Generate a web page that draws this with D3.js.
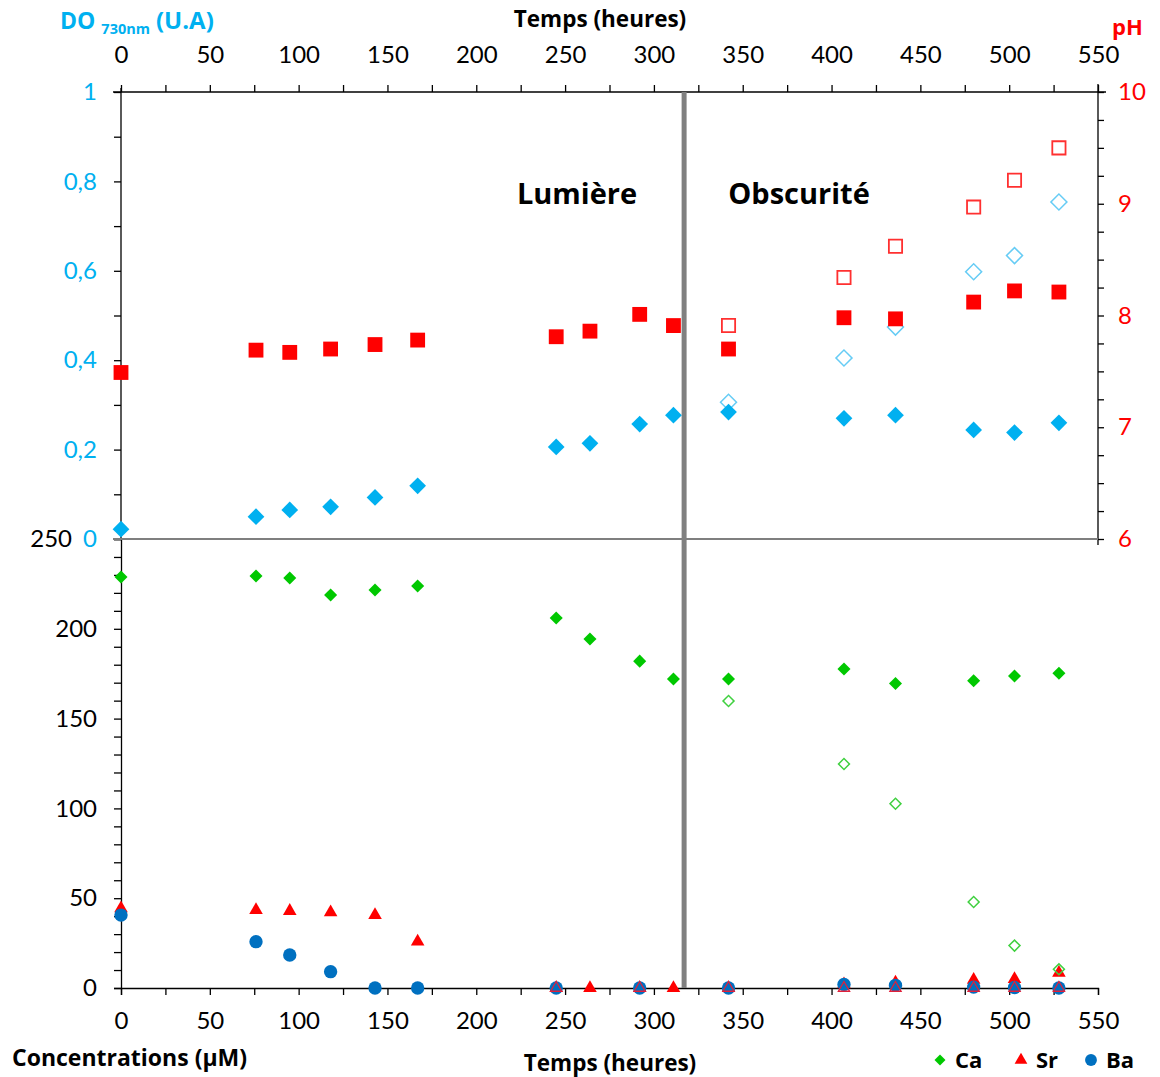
<!DOCTYPE html>
<html><head><meta charset="utf-8">
<script src="https://cdn.jsdelivr.net/npm/d3@7"></script>
<style>
html,body{margin:0;padding:0;background:#fff;}
svg{display:block;font-family:"Open Sans",Lato,sans-serif;}
</style></head>
<body>
<svg id="c" width="1160" height="1077"></svg>
<script>
// ---------- DATA ----------
const timeAll = [0, 76, 95, 118, 143, 167, 245, 264, 292, 311, 342, 407, 436, 480, 503, 528];
const doLight = [0.022, 0.050, 0.065, 0.072, 0.093, 0.119, 0.206, 0.214, 0.257, 0.277, 0.284, 0.270, 0.277, 0.244, 0.238, 0.260];
const phLight = [7.49, 7.69, 7.67, 7.70, 7.74, 7.78, 7.81, 7.86, 8.01, 7.91, 7.70, 7.98, 7.97, 8.12, 8.22, 8.21];
const timeDark = [342, 407, 436, 480, 503, 528];
const doDark = [0.306, 0.405, 0.474, 0.598, 0.634, 0.754];
const phDark = [7.91, 8.34, 8.62, 8.97, 9.21, 9.50];
const caLight = [228.8, 229.4, 228.3, 218.8, 221.6, 223.8, 206.0, 194.3, 182.0, 172.0, 172.0, 177.6, 169.6, 171.1, 173.7, 175.2];
const caDark = [159.8, 124.7, 102.6, 47.9, 23.6, 10.4];
const srLight = [44.3, 43.4, 42.9, 42.1, 40.6, 25.8, 0, 0, 0, 0, 0, 2, 3, 4.5, 5, 8.4];
const baLight = [40.6, 25.8, 18.4, 9.1, 0, 0, 0, null, 0, null, 0, 2, 1.5, 0.5, 0.3, 0];
const timeSrDark = [245, 292, 342, 407, 436, 480, 503, 528];
const srDark = [0, 0, 0, 0, 0, 0, 0, 0];
const xTicks = [0, 50, 100, 150, 200, 250, 300, 350, 400, 450, 500, 550];
const doTicks = [0, 0.2, 0.4, 0.6, 0.8, 1];
const phTicks = [6, 7, 8, 9, 10];
const concTicks = [0, 50, 100, 150, 200];
const dividerTime = 317;
const legendItems = ["Ca", "Sr", "Ba"];

// ---------- SETUP ----------
const svg = d3.select("#c");
const X0 = 121, X1 = 1098, YT = 92, YM = 539, YB = 988;
const x = d3.scaleLinear().domain([0, 550]).range([X0, X1]);
const yDO = d3.scaleLinear().domain([0, 1]).range([YM, YT]);
const yPH = d3.scaleLinear().domain([6, 10]).range([YM, YT]);
const yC = d3.scaleLinear().domain([0, 250]).range([YB, YM]);

const BLUE = "#00B0F0", RED = "#FF0000", GREEN = "#00C800", DBLUE = "#0070C0";
const TXT = "#000";
const TICKFS = 24;
const TICKFONT = "Lato, 'Open Sans', sans-serif";
const fmtFr = d => String(d).replace(".", ",");

function styleAxis(g, color) {
  g.select(".domain").attr("stroke", "#000").attr("stroke-width", 1.3);
  g.selectAll(".tick line").attr("stroke", "#000").attr("stroke-width", 1.3);
  g.selectAll(".tick text").attr("fill", color).attr("font-size", TICKFS)
    .attr("font-family", TICKFONT);
}

// top x axis
const gTop = svg.append("g").attr("transform", `translate(0,${YT})`)
  .call(d3.axisTop(x).tickValues(d3.range(0, 551, 25)).tickSize(7).tickPadding(22)
    .tickFormat(d => xTicks.includes(d) ? d : ""));
styleAxis(gTop, "#000");
gTop.select(".domain").attr("d", `M${X0 - 8},0H${X1 + 8}`);

// bottom x axis
const gBot = svg.append("g").attr("transform", `translate(0,${YB})`)
  .call(d3.axisBottom(x).tickValues(d3.range(0, 551, 25)).tickSize(7).tickPadding(17)
    .tickFormat(d => xTicks.includes(d) ? d : ""));
styleAxis(gBot, "#000");

// left DO axis
const gDO = svg.append("g").attr("transform", `translate(${X0},0)`)
  .call(d3.axisLeft(yDO).tickValues(d3.range(0, 1.0001, 0.1)).tickSize(7).tickPadding(17)
    .tickFormat(d => { const r = Math.round(d * 10) / 10; return doTicks.some(t => Math.abs(t - r) < 1e-9) ? fmtFr(r) : ""; }));
styleAxis(gDO, BLUE);
gDO.select(".domain").attr("d", `M0,${YT - 4}V${YM}`);

// right pH axis
const gPH = svg.append("g").attr("transform", `translate(${X1},0)`)
  .call(d3.axisRight(yPH).tickValues(d3.range(6, 10.001, 0.25)).tickSize(6).tickPadding(14)
    .tickFormat(d => phTicks.includes(d) ? d : ""));
styleAxis(gPH, RED);
gPH.select(".domain").attr("d", `M0,${YT - 8}V${YM + 6}`);

// left concentration axis
const gC = svg.append("g").attr("transform", `translate(${X0},0)`)
  .call(d3.axisLeft(yC).tickValues(d3.range(0, 250.1, 10)).tickSize(7).tickPadding(17)
    .tickFormat(d => concTicks.includes(d) ? d : ""));
styleAxis(gC, "#000");
// "250" label beside the DO 0
svg.append("text").attr("x", 72).attr("y", yC(250)).attr("dy", "0.35em")
  .attr("text-anchor", "end").attr("font-size", TICKFS)
  .attr("font-family", TICKFONT).attr("fill", "#000").text("250");

// middle horizontal line
svg.append("line").attr("x1", X0 - 8).attr("x2", X1).attr("y1", YM).attr("y2", YM)
  .attr("stroke", "#7f7f7f").attr("stroke-width", 2.2);

// divider
svg.append("line").attr("x1", x(dividerTime)).attr("x2", x(dividerTime))
  .attr("y1", YT).attr("y2", YB).attr("stroke", "#808080").attr("stroke-width", 5);

// ---------- MARKERS ----------
const sq = d3.symbol().type(d3.symbolSquare);
const tri = d3.symbol().type(d3.symbolTriangle);
const circ = d3.symbol().type(d3.symbolCircle);

function plot(times, vals, yScale, gen, size, rot, fill, stroke, sw) {
  const data = times.map((t, i) => ({ t, v: vals[i] })).filter(d => d.v !== null);
  svg.append("g").selectAll("path").data(data).join("path")
    .attr("d", gen.size(size)())
    .attr("transform", d => `translate(${x(d.t)},${yScale(d.v)}) rotate(${rot})`)
    .attr("fill", fill).attr("stroke", stroke).attr("stroke-width", sw);
}

// concentrations panel
plot(timeAll, caLight, yC, sq, 85, 45, GREEN, "none", 0);
plot(timeAll, srLight, yC, tri, 80, 0, RED, "none", 0);
plot(timeAll, baLight, yC, circ, 140, 0, DBLUE, "none", 0);
plot(timeSrDark, srDark, yC, tri, 55, 0, "none", "#E0203A", 1.3);
plot(timeDark, caDark, yC, sq, 60, 45, "none", "#40D040", 1.5);

// DO / pH panel
plot(timeDark, doDark, yDO, sq, 128, 45, "none", "#66CCF5", 1.5);
plot(timeAll, doLight, yDO, sq, 140, 45, BLUE, "none", 0);
plot(timeDark, phDark, yPH, sq, 175, 0, "none", "#FF3030", 1.8);
plot(timeAll, phLight, yPH, sq, 220, 0, RED, "none", 0);

// ---------- TEXT ----------
svg.append("text").attr("x", 600).attr("y", 27).attr("text-anchor", "middle")
  .attr("font-size", 22.5).attr("font-weight", "bold").attr("fill", TXT).text("Temps (heures)");
svg.append("text").attr("x", 610).attr("y", 1071).attr("text-anchor", "middle")
  .attr("font-size", 22.5).attr("font-weight", "bold").attr("fill", TXT).text("Temps (heures)");
svg.append("text").attr("x", 12).attr("y", 1066)
  .attr("font-size", 23).attr("font-weight", "bold").attr("fill", TXT).text("Concentrations (µM)");

const doT = svg.append("text").attr("x", 60).attr("y", 29).attr("font-weight", "bold").attr("fill", BLUE);
doT.append("tspan").attr("font-size", 23).text("DO");
doT.append("tspan").attr("font-size", 14.5).attr("dx", 6).attr("dy", 5).text("730nm");
doT.append("tspan").attr("font-size", 24).attr("dx", 6).attr("dy", -5).text("(U.A)");

svg.append("text").attr("x", 1112).attr("y", 35).attr("font-size", 22)
  .attr("font-weight", "bold").attr("fill", RED).text("pH");

svg.append("text").attr("x", 577).attr("y", 204).attr("text-anchor", "middle")
  .attr("font-size", 29).attr("font-weight", "bold").attr("fill", TXT).text("Lumière");
svg.append("text").attr("x", 799).attr("y", 204).attr("text-anchor", "middle")
  .attr("font-size", 29).attr("font-weight", "bold").attr("fill", TXT).text("Obscurité");

// legend
const legX = [940, 1021, 1091];
const legGen = [sq.size(60)(), tri.size(70)(), circ.size(110)()];
const legCol = [GREEN, RED, DBLUE];
const legRot = [45, 0, 0];
legendItems.forEach((name, i) => {
  svg.append("path").attr("d", legGen[i])
    .attr("transform", `translate(${legX[i]},1060) rotate(${legRot[i]})`).attr("fill", legCol[i]);
  svg.append("text").attr("x", legX[i] + 15).attr("y", 1068).attr("font-size", 22)
    .attr("font-weight", "bold").attr("fill", TXT).text(name);
});
</script>
</body></html>
